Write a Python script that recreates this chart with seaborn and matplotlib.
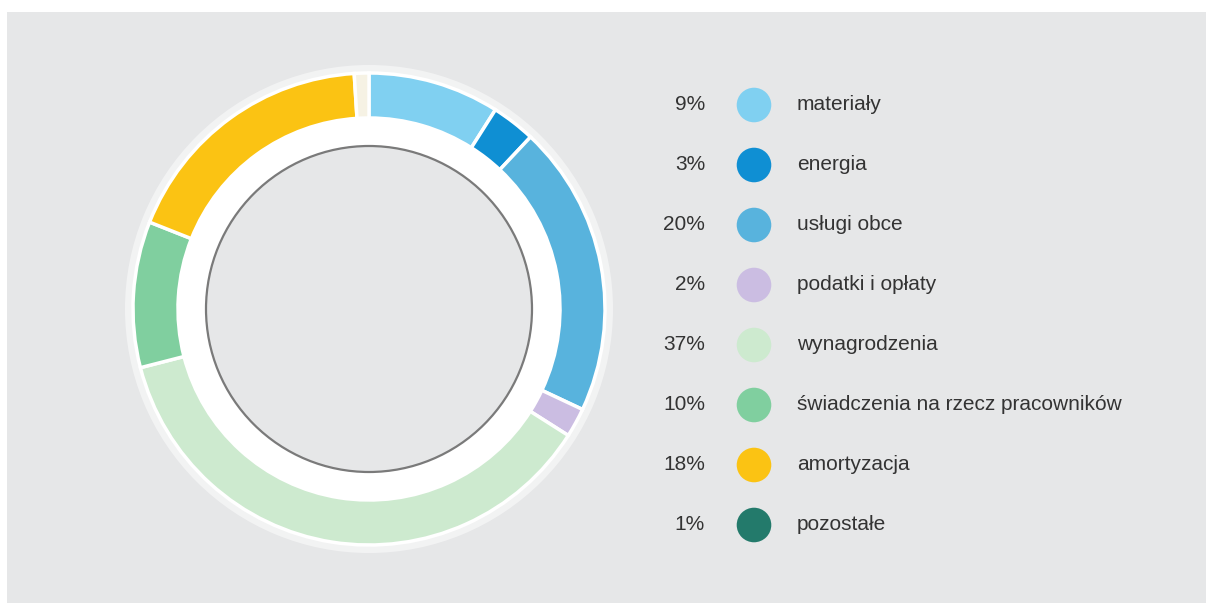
import numpy as np
import pandas as pd
import matplotlib
matplotlib.use("Agg")
import matplotlib.pyplot as plt
import seaborn as sns
from matplotlib.patches import Rectangle, Circle, Wedge

# cost structure (share of total, %)
categories = ["materiały", "energia", "usługi obce", "podatki i opłaty",
              "wynagrodzenia", "świadczenia na rzecz pracowników",
              "amortyzacja", "pozostałe"]
shares = [9, 3, 20, 2, 37, 10, 18, 1]
colors = ["#80d0f1", "#0f8fd3", "#58b3dd", "#cbbde2",
          "#cdeacf", "#80cf9f", "#fbc313", "#237a6b"]
# the 1% slice shows up almost white on the ring
ring_colors = colors[:-1] + ["#f6f2e4"]

BG = "#e6e7e8"
W, H = 1206, 603

sns.set_theme(style="white")
plt.rcParams["font.family"] = ["Liberation Sans", "DejaVu Sans"]

fig = plt.figure(figsize=(W / 100, H / 100), dpi=100)
fig.patch.set_facecolor("white")
ax = fig.add_axes([0, 0, 1, 1])

# gray panel
ax.add_patch(Rectangle((7, 0), W - 7, H - 12, facecolor=BG, edgecolor="none", zorder=0))

cx, cy = 369, H - 309
r_out, ring_w = 236, 45

# soft white halo around the ring
ax.add_patch(Wedge((cx, cy), r_out + 8, 0, 360, width=12, facecolor="white",
                   alpha=0.5, edgecolor="none", zorder=1))
# white band inside the ring
ax.add_patch(Circle((cx, cy), r_out - ring_w + 1, facecolor="white", edgecolor="none", zorder=1))

wedges, _ = ax.pie(shares, colors=ring_colors, startangle=90, counterclock=False,
                   center=(cx, cy), radius=r_out,
                   wedgeprops=dict(width=ring_w, edgecolor="white", linewidth=2.5))
for w in wedges:
    w.set_zorder(2)

# inner gray disc with outline
ax.add_patch(Circle((cx, cy), 163, facecolor=BG, edgecolor="#7a7a7a", linewidth=1.6, zorder=3))

# legend
rows = np.arange(len(categories))
leg = pd.DataFrame({"x": 754, "y": H - (105 + 60 * rows), "cat": categories})
sns.scatterplot(data=leg, x="x", y="y", hue="cat", palette=colors, s=620,
                edgecolor="none", legend=False, ax=ax, zorder=4)
for yy, cat, val in zip(leg["y"], categories, shares):
    ax.text(705, yy, f"{val}%", ha="right", va="center", fontsize=15, color="#333333")
    ax.text(797, yy, cat, ha="left", va="center", fontsize=15, color="#333333")

ax.set_xlim(0, W)
ax.set_ylim(0, H)
ax.set_aspect("auto")
ax.axis("off")

plt.savefig("out.png", dpi=100, facecolor=fig.get_facecolor())
